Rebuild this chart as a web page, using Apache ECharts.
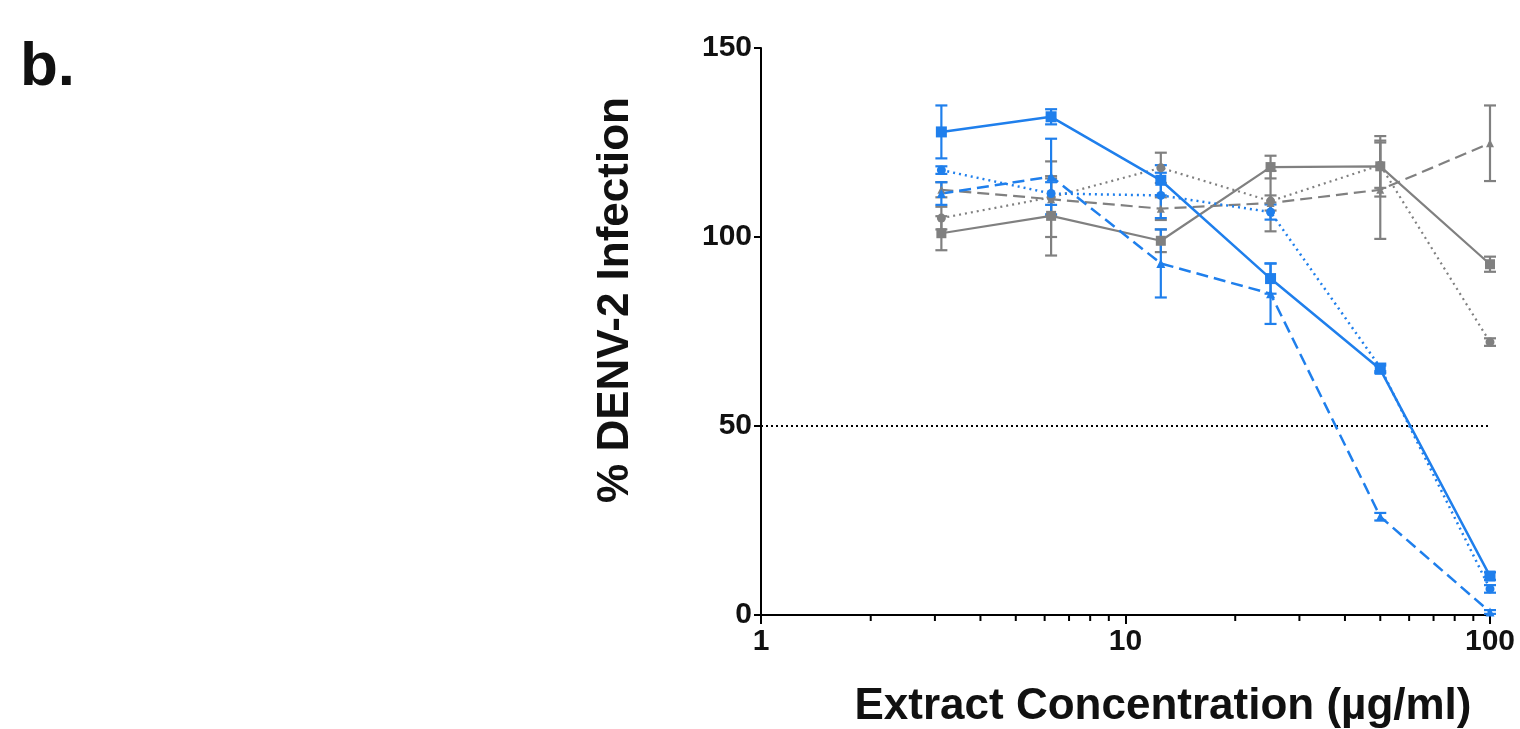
<!DOCTYPE html>
<html>
<head>
<meta charset="utf-8">
<script src="https://cdn.jsdelivr.net/npm/echarts@6/dist/echarts.min.js"></script>
<style>html,body{margin:0;padding:0;background:#fff;}#c{width:1520px;height:729px;}</style>
</head>
<body>
<div id="c"></div>
<script>
// ---- data ----
var concentrations = [3.125, 6.25, 12.5, 25, 50, 100];
var blueSolid      = [127.8, 131.8, 115.0, 89.0, 65.0, 10.3];
var blueSolidErr   = [7, 2, 4, 4, 1, 1];
var blueDotted     = [117.7, 111.5, 111.0, 106.6, 65.5, 6.9];
var blueDottedErr  = [1, 3, 6, 2, 1, 1];
var blueDashed     = [111.5, 116.0, 93.0, 85.0, 26.0, 0.8];
var blueDashedErr  = [3, 10, 9, 8, 1, 0.5];
var graySolid      = [101.0, 105.6, 99.0, 118.5, 118.7, 92.8];
var graySolidErr   = [4.5, 10.5, 3, 3, 8, 2];
var grayDotted     = [105.0, 110.5, 118.3, 109.5, 119.0, 72.2];
var grayDottedErr  = [3, 5, 4, 8, 6, 1];
var grayDashed     = [112.5, 110.0, 107.5, 109.0, 112.5, 124.8];
var grayDashedErr  = [2, 10, 3, 2, 13, 10];
var thresholdX     = [1, 100];
var thresholdY     = 50;
var minorTickValues = [2, 3, 4, 5, 6, 7, 8, 9, 20, 30, 40, 50, 60, 70, 80, 90];

var BLUE = '#1f7fec';
var GRAY = '#808080';

function pairs(ys) { return concentrations.map(function (x, i) { return [x, ys[i]]; }); }
function errData(ys, es) { return concentrations.map(function (x, i) { return [x, ys[i] - es[i], ys[i] + es[i]]; }); }

function errSeries(ys, es, color) {
  return {
    type: 'custom',
    data: errData(ys, es),
    encode: { x: 0, y: [1, 2] },
    clip: false,
    z: 3,
    silent: true,
    renderItem: function (params, api) {
      var x = api.value(0);
      var lo = api.coord([x, api.value(1)]);
      var hi = api.coord([x, api.value(2)]);
      var w = 6;
      var st = { stroke: color, lineWidth: 2.2 };
      return {
        type: 'group',
        children: [
          { type: 'line', shape: { x1: lo[0], y1: lo[1], x2: hi[0], y2: hi[1] }, style: st },
          { type: 'line', shape: { x1: lo[0] - w, y1: lo[1], x2: lo[0] + w, y2: lo[1] }, style: st },
          { type: 'line', shape: { x1: hi[0] - w, y1: hi[1], x2: hi[0] + w, y2: hi[1] }, style: st }
        ]
      };
    }
  };
}

function lineSeries(ys, color, lineType, symbol, size, width) {
  return {
    type: 'line',
    data: pairs(ys),
    symbol: symbol,
    symbolSize: size,
    showSymbol: true,
    z: 4,
    silent: true,
    itemStyle: { color: color },
    lineStyle: { color: color, type: lineType, width: width }
  };
}

var chart = echarts.init(document.getElementById('c'), null, { renderer: 'canvas' });
var fontFam = '"Liberation Sans", Arial, sans-serif';

chart.setOption({
  animation: false,
  backgroundColor: '#fff',
  grid: { left: 761, right: 30, top: 48, bottom: 114, containLabel: false },
  xAxis: {
    type: 'log', logBase: 10, min: 1, max: 100,
    axisLine: { show: true, onZero: false, lineStyle: { color: '#000', width: 2 } },
    axisTick: { show: true, inside: false, length: 9, lineStyle: { color: '#000', width: 2 } },
    axisLabel: { color: '#111', fontSize: 30, fontWeight: 'bold', fontFamily: fontFam, margin: 12 },
    splitLine: { show: false },
    minorTick: { show: false }
  },
  yAxis: {
    type: 'value', min: 0, max: 150, interval: 50,
    axisLine: { show: true, lineStyle: { color: '#000', width: 2 } },
    axisTick: { show: true, length: 7, lineStyle: { color: '#000', width: 2 } },
    axisLabel: { color: '#111', fontSize: 30, fontWeight: 'bold', fontFamily: fontFam, margin: 9 },
    splitLine: { show: false }
  },
  graphic: [
    { type: 'text', left: 20, top: 37, style: { text: 'b.', fontSize: 62, fontWeight: 'bold', fontFamily: fontFam, fill: '#111' } },
    { type: 'text', x: 616, y: 300, rotation: Math.PI / 2,
      style: { text: '% DENV-2 Infection', fontSize: 44, fontWeight: 'bold', fontFamily: fontFam, fill: '#111', align: 'center', verticalAlign: 'middle' } },
    { type: 'text', x: 1163, y: 707,
      style: { text: 'Extract Concentration (µg/ml)', fontSize: 44, fontWeight: 'bold', fontFamily: fontFam, fill: '#111', align: 'center', verticalAlign: 'middle' } }
  ],
  series: [
    {
      type: 'line',
      data: thresholdX.map(function (x) { return [x, thresholdY]; }),
      symbol: 'none',
      silent: true,
      z: 2,
      lineStyle: { color: '#000', type: [2, 3], width: 2 }
    },
    {
      type: 'custom',
      data: minorTickValues.map(function (v) { return [v, 0]; }),
      encode: { x: 0, y: 1 },
      clip: false,
      silent: true,
      renderItem: function (params, api) {
        var p = api.coord([api.value(0), api.value(1)]);
        return { type: 'line', shape: { x1: p[0], y1: p[1], x2: p[0], y2: p[1] + 6 }, style: { stroke: '#000', lineWidth: 2 } };
      }
    },
    errSeries(graySolid, graySolidErr, GRAY),
    errSeries(grayDotted, grayDottedErr, GRAY),
    errSeries(grayDashed, grayDashedErr, GRAY),
    errSeries(blueSolid, blueSolidErr, BLUE),
    errSeries(blueDotted, blueDottedErr, BLUE),
    errSeries(blueDashed, blueDashedErr, BLUE),
    lineSeries(graySolid, GRAY, 'solid', 'rect', 10, 2.2),
    lineSeries(grayDotted, GRAY, [2, 4], 'circle', 9, 2.2),
    lineSeries(grayDashed, GRAY, [12, 6], 'triangle', 8, 2.2),
    lineSeries(blueSolid, BLUE, 'solid', 'rect', 11, 2.5),
    lineSeries(blueDotted, BLUE, [2, 4], 'circle', 9, 2.5),
    lineSeries(blueDashed, BLUE, [12, 6], 'triangle', 9, 2.5)
  ]
});
</script>
</body>
</html>
